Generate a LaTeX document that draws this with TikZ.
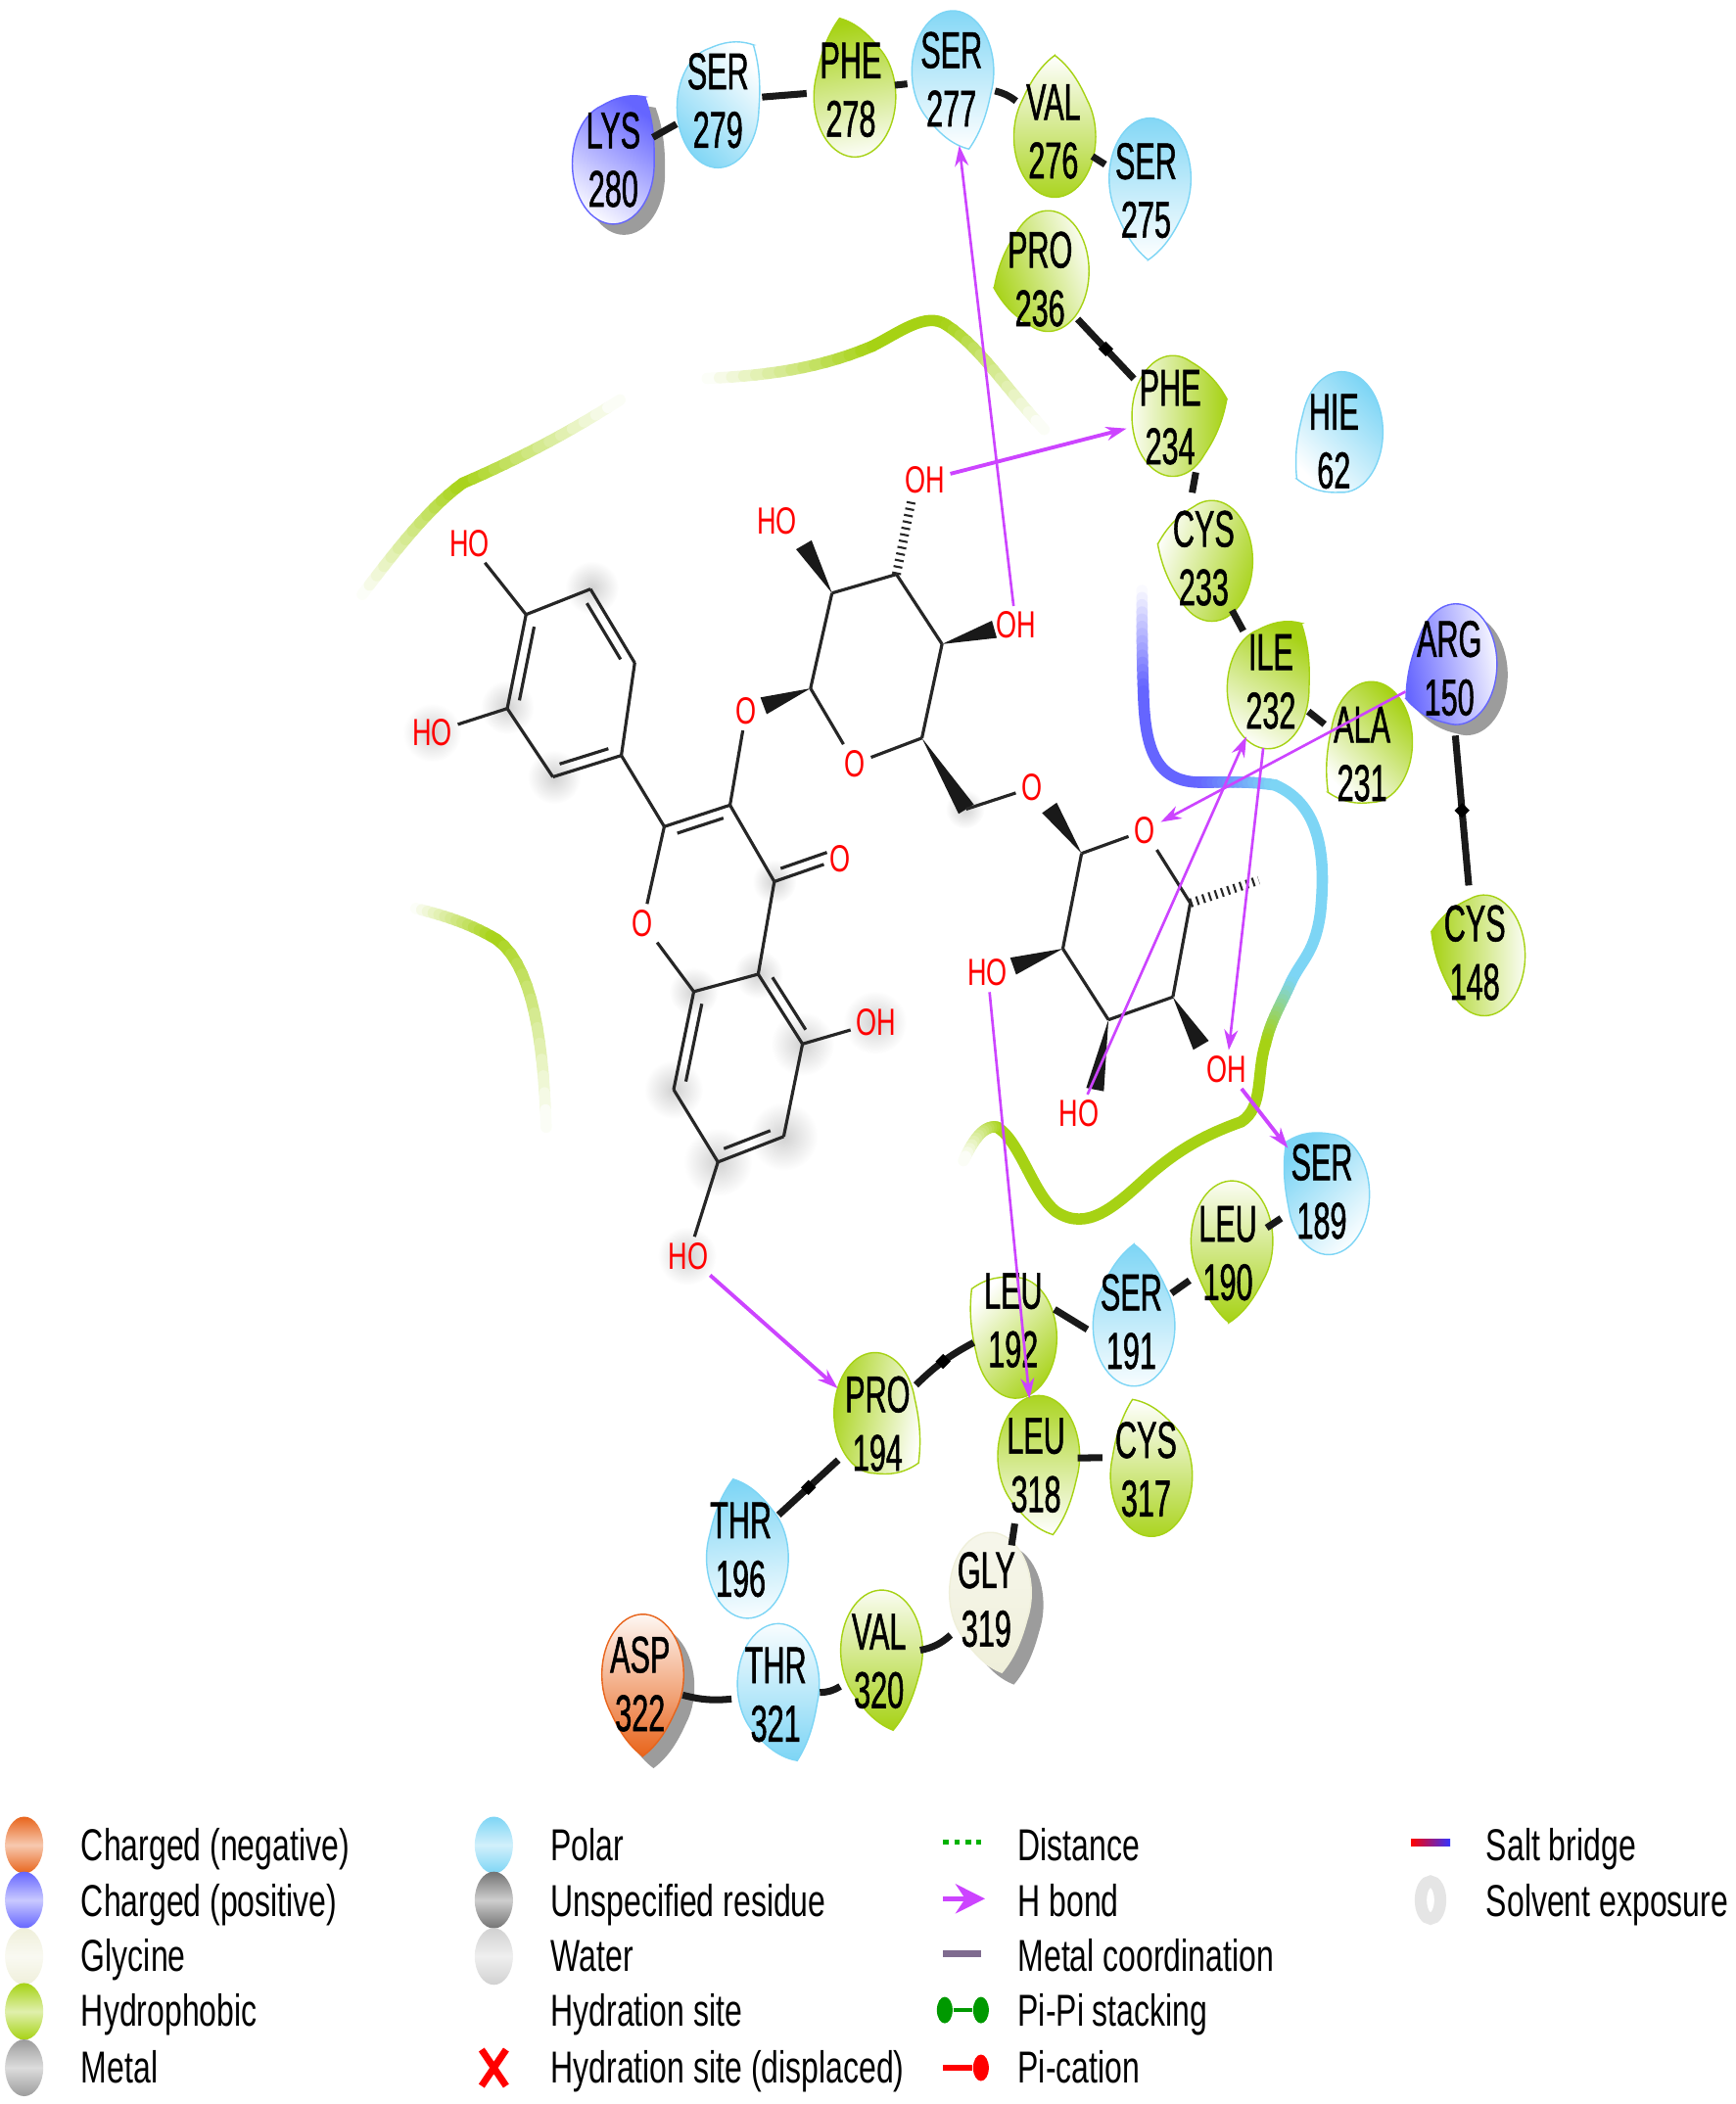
\documentclass[tikz,border=0pt]{standalone}
\usepackage{fontspec}
\usetikzlibrary{arrows.meta,calc,shapes.geometric,shapes.misc}
\newfontfamily\resfont[FakeStretch=0.58,FakeBold=1]{Liberation Sans}
\newfontfamily\legfont[FakeStretch=0.70]{Liberation Sans}
\definecolor{hphob}{HTML}{A6D214}
\definecolor{polar}{HTML}{7DD5F5}
\definecolor{posit}{HTML}{6565FF}
\definecolor{negat}{HTML}{E8641B}
\definecolor{glyc}{HTML}{EFEFDA}
\definecolor{hbond}{HTML}{CC44FF}
\definecolor{dropgray}{HTML}{9C9C9C}
\definecolor{metalc}{HTML}{7F6B8F}
\definecolor{unspec}{HTML}{737373}
\definecolor{water}{HTML}{D1D1D1}
\newcommand{\dropshape}[4]{\path[#4, shift={(#1,#2)}, xscale=30.5, yscale=45] (#3:1.35) .. controls (#3+18:1.22) and (#3+34:1.08) .. (#3+52:1) arc[start angle=#3+52, end angle=#3+308, radius=1] .. controls (#3-34:1.08) and (#3-18:1.22) .. cycle;}
\newcommand{\gradline}[6]{%
  \foreach \i in {1,...,14}{%
    \pgfmathsetmacro{\ta}{(\i-1)/14}\pgfmathsetmacro{\tb}{\i/14}\pgfmathtruncatemacro{\mixv}{100*(\i-.5)/14}%
    \path #1 .. controls #2 and #3 .. #4 coordinate[pos=\ta] (u) coordinate[pos=\tb] (v);
    \draw[pocket, color=#6!\mixv!#5] (u) -- (v);}}
\newcommand{\dblbond}[3]{%
  \draw[bond] (#1) -- (#2);
  \draw[bond, shorten <=3pt, shorten >=3pt] ($(#1)!3pt!#3:(#2)$) -- ($(#2)!3pt!-#3:(#1)$);}
\newcommand{\wedgebond}[2]{\fill[black!90] ($(#2)!2.6pt!90:(#1)$) -- ($(#2)!2.6pt!-90:(#1)$) -- (#1) -- cycle;}

\begin{document}
\begin{tikzpicture}[
  x=0.013705cm, y=0.013705cm,
  resnode/.style={ellipse, inner sep=0pt, minimum width=0.84cm, minimum height=1.26cm, align=center, font=\resfont\fontsize{15}{17}\selectfont},
  hphobdrop/.style={draw=hphob, top color=hphob, bottom color=white, shading angle=#1},
  polardrop/.style={draw=polar, top color=polar, bottom color=white, shading angle=#1},
  positdrop/.style={draw=posit, top color=posit, bottom color=white, shading angle=#1},
  negatdrop/.style={draw=negat, top color=negat, bottom color=white, shading angle=#1},
  glycdrop/.style={draw=glyc, top color=glyc!50, bottom color=glyc, shading angle=#1},
  dropshadow/.style={fill=dropgray},
  backbone/.style={line width=2pt, black!90},
  kink/.style={diamond, fill=black, inner sep=1.3pt},
  bond/.style={line width=0.9pt, black!85},
  hashbond/.style={line width=2.6pt, black!85, dash pattern=on 0.6pt off 1.3pt},
  atomlabel/.style={text=red, inner sep=1.5pt, font=\legfont\fontsize{11}{12}\selectfont},
  halo/.style={circle, inner sep=0pt, minimum size=#1, inner color=black!18, outer color=white},
  pocket/.style={line width=3.3pt, line cap=round},
  hbondline/.style={-{Stealth[length=2.1mm,width=1.4mm]}, hbond, line width=0.75pt},
  hbondthick/.style={hbondline, line width=1.1pt},
  legtext/.style={anchor=base west, yshift=-0.155cm, inner sep=0pt, font=\legfont\fontsize{13}{14}\selectfont},
  legmark/.style={ellipse, inner sep=0pt, minimum width=0.39cm, minimum height=0.58cm, top color=#1, bottom color=#1, middle color=#1!35}
]
\useasboundingbox (0,0) rectangle (1293,-1568);

% solvent exposure
\node[halo=0.55cm] (ha) at (441,-438) {};
\node[halo=0.55cm] (hb) at (413,-579) {};
\node[halo=0.55cm] (hc) at (378,-527) {};
\node[halo=0.6cm] (hd) at (322,-546) {};
\node[halo=0.45cm] (he) at (577,-657) {};
\node[halo=0.5cm] (hf) at (565,-726) {};
\node[halo=0.5cm] (hg) at (517,-739) {};
\node[halo=0.65cm] (hh) at (598,-778) {};
\node[halo=0.65cm] (hi) at (652,-762) {};
\node[halo=0.7cm] (hj) at (584,-847) {};
\node[halo=0.7cm] (hk) at (535,-866) {};
\node[halo=0.6cm] (hl) at (502,-812) {};
\node[halo=0.6cm] (hm) at (512,-936) {};
\node[halo=0.4cm] (hn) at (719,-603) {};

% pocket outline
\gradline{(270,-443)}{(295,-410)}{(320,-378)}{(345,-360)}{white}{hphob}
\gradline{(345,-360)}{(380,-345)}{(420,-325)}{(462,-298)}{hphob}{white}
\gradline{(527,-282)}{(570,-280)}{(610,-275)}{(650,-258)}{white}{hphob}
\draw[pocket, hphob] (650,-258) .. controls (670,-248) and (690,-232) .. (705,-242);
\gradline{(705,-242)}{(730,-258)}{(750,-290)}{(778,-320)}{hphob}{white}
\gradline{(310,-677)}{(330,-682)}{(350,-688)}{(370,-700)}{white}{hphob}
\gradline{(370,-700)}{(398,-720)}{(405,-780)}{(407,-840)}{hphob}{white}
\gradline{(851,-440)}{(851,-465)}{(851,-490)}{(852,-515)}{white}{posit}
\draw[pocket, posit] (852,-515) .. controls (853,-560) and (862,-583) .. (895,-583);
\gradline{(895,-583)}{(915,-583)}{(930,-582)}{(950,-585)}{posit}{polar}
\draw[pocket, polar] (950,-585) .. controls (985,-600) and (988,-640) .. (984,-680) .. controls (980,-710) and (970,-715) .. (962,-732);
\gradline{(962,-732)}{(955,-748)}{(947,-760)}{(943,-778)}{polar}{hphob}
\draw[pocket, hphob] (943,-778) .. controls (936,-800) and (942,-825) .. (925,-836) .. controls (900,-845) and (880,-855) .. (855,-877) .. controls (830,-900) and (810,-918) .. (787,-903) .. controls (770,-890) and (760,-850) .. (743,-840);
\gradline{(743,-840)}{(733,-838)}{(725,-850)}{(718,-865)}{hphob}{white}

% residues
\dropshape{465}{-130}{55}{dropshadow}
\dropshape{457}{-122}{55}{positdrop=-35}
\node[resnode] (lys280) at (457,-119) {LYS\\280};
\dropshape{535}{-80}{50}{polardrop=135}
\node[resnode] (ser279) at (535,-75) {SER\\279};
\dropshape{637}{-72}{106}{hphobdrop=10}
\node[resnode] (phe278) at (634,-67) {PHE\\278};
\dropshape{710}{-53}{-73}{polardrop=0}
\node[resnode] (ser277) at (709,-59) {SER\\277};
\dropshape{786}{-102}{90}{hphobdrop=180}
\node[resnode] (val276) at (785,-98) {VAL\\276};
\dropshape{857}{-133}{-92}{polardrop=0}
\node[resnode] (ser275) at (854,-142) {SER\\275};
\dropshape{781}{-202}{192}{hphobdrop=110}
\node[resnode] (pro236) at (775,-208) {PRO\\236};
\dropshape{874}{-310}{12}{hphobdrop=-90}
\node[resnode] (phe234) at (872,-311) {PHE\\234};
\dropshape{1000}{-322}{215}{polardrop=-45}
\node[resnode] (hie62) at (994,-329) {HIE\\62};
\dropshape{903}{-418}{168}{hphobdrop=-110}
\node[resnode] (cys233) at (897,-416) {CYS\\233};
\dropshape{945}{-513}{53}{hphobdrop=-30}
\node[resnode] (ile232) at (947,-508) {ILE\\232};
\dropshape{1022}{-553}{218}{hphobdrop=-45}
\node[resnode] (ala231) at (1015,-562) {ALA\\231};
\dropshape{1093}{-503}{205}{dropshadow}
\dropshape{1085}{-495}{205}{positdrop=100}
\node[resnode] (arg150) at (1080,-498) {ARG\\150};
\dropshape{1106}{-712}{163}{hphobdrop=90}
\node[resnode] (cys148) at (1099,-710) {CYS\\148};
\dropshape{990}{-890}{140}{polardrop=45}
\node[resnode] (ser189) at (985,-888) {SER\\189};
\dropshape{918}{-925}{-93}{hphobdrop=180}
\node[resnode] (leu190) at (915,-934) {LEU\\190};
\dropshape{845}{-988}{90}{polardrop=0}
\node[resnode] (ser191) at (843,-985) {SER\\191};
\dropshape{757}{-997}{143}{hphobdrop=-135}
\node[resnode] (leu192) at (755,-984) {LEU\\192};
\dropshape{652}{-1053}{-38}{hphobdrop=80}
\node[resnode] (pro194) at (654,-1061) {PRO\\194};
\dropshape{774}{-1085}{-75}{hphobdrop=0}
\node[resnode] (leu318) at (772,-1092) {LEU\\318};
\dropshape{858}{-1100}{110}{hphobdrop=180}
\node[resnode] (cys317) at (854,-1095) {CYS\\317};
\dropshape{557}{-1161}{105}{polardrop=5}
\node[resnode] (thr196) at (552,-1155) {THR\\196};
\dropshape{747}{-1196}{-78}{dropshadow}
\dropshape{738}{-1187}{-78}{glycdrop=0}
\node[resnode] (gly319) at (735,-1192) {GLY\\319};
\dropshape{657}{-1230}{-78}{hphobdrop=180}
\node[resnode] (val320) at (655,-1238) {VAL\\320};
\dropshape{580}{-1255}{-70}{polardrop=180}
\node[resnode] (thr321) at (578,-1263) {THR\\321};
\dropshape{487}{-1257}{-90}{dropshadow}
\dropshape{479}{-1248}{-90}{negatdrop=180}
\node[resnode] (asp322) at (477,-1255) {ASP\\322};

\draw[backbone] (lys280) -- (ser279);
\draw[backbone] (ser279) -- (phe278);
\draw[backbone] (phe278) -- (ser277);
\draw[backbone] (ser277) to[bend left=12] (val276);
\draw[backbone] (val276) -- (ser275);
\draw[backbone] (pro236) -- node[kink]{} (phe234);
\draw[backbone] (phe234.-65) -- (cys233.100);
\draw[backbone] (cys233) -- (ile232);
\draw[backbone] (ile232) -- (ala231);
\draw[backbone] (arg150) -- node[kink]{} (cys148);
\draw[backbone] (ser189) -- (leu190);
\draw[backbone] (leu190) -- (ser191);
\draw[backbone] (ser191.190) -- (leu192.15);
\draw[backbone] (leu192) to[bend right=8] node[kink]{} (pro194);
\draw[backbone] (pro194) -- node[kink]{} (thr196);
\draw[backbone] (leu318.10) -- (cys317.165);
\draw[backbone] (leu318.-110) -- (gly319.65);
\draw[backbone] (gly319) to[bend left=15] (val320);
\draw[backbone] (val320) to[bend left=15] (thr321);
\draw[backbone] (thr321) to[bend left=10] (asp322);

% ligand atoms
\coordinate (b1) at (392,-458);
\coordinate (b2) at (440,-439);
\coordinate (b3) at (473,-494);
\coordinate (b4) at (463,-563);
\coordinate (b5) at (412,-579);
\coordinate (b6) at (378,-528);
\node[atomlabel] (ob1) at (350,-405) {HO};
\node[atomlabel] (ob6) at (322,-546) {HO};
\coordinate (c2) at (495,-616);
\coordinate (c3) at (544,-600);
\coordinate (c4) at (577,-657);
\node[atomlabel] (oc4) at (626,-640) {O};
\node[atomlabel] (o1) at (479,-688) {O};
\coordinate (a8) at (517,-739);
\coordinate (a4) at (565,-726);
\coordinate (a5) at (598,-778);
\coordinate (a6) at (584,-847);
\coordinate (a7) at (535,-866);
\coordinate (a8b) at (502,-812);
\node[atomlabel] (oa5) at (653,-762) {OH};
\node[atomlabel] (oa7) at (513,-936) {HO};
\node[atomlabel] (oc3) at (556,-530) {O};
\coordinate (s1) at (604,-513);
\node[atomlabel] (os) at (637,-569) {O};
\coordinate (s5) at (687,-550);
\coordinate (s4) at (702,-480);
\coordinate (s3) at (668,-428);
\coordinate (s2) at (620,-442);
\node[atomlabel] (os2) at (579,-388) {HO};
\coordinate (ws2) at (599,-406);
\node[atomlabel] (os3) at (689,-358) {OH};
\coordinate (ws3) at (679,-374);
\node[atomlabel] (os4) at (757,-466) {OH};
\coordinate (ws4) at (741,-469);
\coordinate (ws1) at (569,-526);
\coordinate (ch2) at (720,-603);
\node[atomlabel] (og) at (769,-587) {O};
\coordinate (wr1) at (782,-602);
\coordinate (r1) at (806,-636);
\node[atomlabel] (or) at (853,-619) {O};
\coordinate (r5) at (887,-673);
\coordinate (me) at (938,-656);
\coordinate (r4) at (874,-743);
\coordinate (r3) at (826,-760);
\coordinate (r2) at (792,-707);
\node[atomlabel] (or2) at (736,-725) {HO};
\coordinate (wr2) at (755,-720);
\node[atomlabel] (or4) at (914,-797) {OH};
\coordinate (wr4) at (895,-779);
\node[atomlabel] (or3) at (804,-830) {HO};
\coordinate (wr3) at (816,-812);

% ligand bonds
\draw[bond] (ob1) -- (b1);
\draw[bond] (ob6) -- (b6);
\dblbond{b6}{b1}{-90}
\draw[bond] (b1) -- (b2);
\dblbond{b2}{b3}{-90}
\draw[bond] (b3) -- (b4);
\dblbond{b4}{b5}{-90}
\draw[bond] (b5) -- (b6);
\draw[bond] (b4) -- (c2);
\dblbond{c2}{c3}{-90}
\draw[bond] (c3) -- (c4);
\draw[bond] (c4) -- (a4);
\draw[bond] (c2) -- (o1);
\draw[bond] (o1) -- (a8);
\draw[bond] (a8) -- (a4);
\dblbond{c4}{oc4}{90}
\dblbond{a4}{a5}{90}
\draw[bond] (a5) -- (a6);
\dblbond{a6}{a7}{-90}
\draw[bond] (a7) -- (a8b);
\dblbond{a8b}{a8}{-90}
\draw[bond] (a5) -- (oa5);
\draw[bond] (a7) -- (oa7);
\draw[bond] (c3) -- (oc3);
\wedgebond{s1}{ws1}
\draw[bond] (s1) -- (os);
\draw[bond] (os) -- (s5);
\draw[bond] (s5) -- (s4);
\draw[bond] (s4) -- (s3);
\draw[bond] (s3) -- (s2);
\draw[bond] (s2) -- (s1);
\wedgebond{s2}{ws2}
\draw[hashbond] (s3) -- (ws3);
\wedgebond{s4}{ws4}
\wedgebond{s5}{ch2}
\draw[bond] (ch2) -- (og);
\wedgebond{r1}{wr1}
\draw[bond] (r1) -- (or);
\draw[bond] (or) -- (r5);
\draw[hashbond] (r5) -- (me);
\draw[bond] (r5) -- (r4);
\draw[bond] (r4) -- (r3);
\draw[bond] (r3) -- (r2);
\draw[bond] (r2) -- (r1);
\wedgebond{r2}{wr2}
\wedgebond{r4}{wr4}
\wedgebond{r3}{wr3}

% h bonds
\draw[hbondthick] (os3) -- (phe234);
\draw[hbondline] (os4) -- (ser277);
\draw[hbondline] (arg150) -- (or);
\draw[hbondline] (or3) -- (ile232);
\draw[hbondline] (ile232) -- (or4);
\draw[hbondthick] (or4) -- (ser189);
\draw[hbondline] (or2) -- (leu318);
\draw[hbondthick] (oa7) -- (pro194);

% legend
\node[legmark=negat] (mneg) at (18,-1375) {};
\node[legmark=posit] (mpos) at (18,-1416) {};
\node[legmark=glyc] (mgly) at (18,-1458) {};
\node[legmark=hphob] (mhyd) at (18,-1499) {};
\node[legmark=dropgray] (mmet) at (18,-1541) {};
\node[legtext] (tneg) at (60,-1375) {Charged (negative)};
\node[legtext] (tpos) at (60,-1417) {Charged (positive)};
\node[legtext] (tgly) at (60,-1458) {Glycine};
\node[legtext] (thyd) at (60,-1499) {Hydrophobic};
\node[legtext] (tmet) at (60,-1541) {Metal};
\node[legmark=polar] (mpol) at (368,-1375) {};
\node[legmark=unspec] (muns) at (368,-1416) {};
\node[legmark=water] (mwat) at (368,-1458) {};
\node[cross out, draw=red, line width=2pt, inner sep=0pt, minimum width=0.18cm, minimum height=0.3cm] (mdis) at (368,-1541) {};
\node[legtext] (tpol) at (410,-1375) {Polar};
\node[legtext] (tuns) at (410,-1417) {Unspecified residue};
\node[legtext] (twat) at (410,-1458) {Water};
\node[legtext] (thds) at (410,-1499) {Hydration site};
\node[legtext] (tdis) at (410,-1541) {Hydration site (displaced)};
\coordinate (la1) at (703,-1373);
\coordinate (la2) at (731,-1373);
\draw[green!70!black, line width=1.5pt, dash pattern=on 1.6pt off 1.6pt] (la1) -- (la2);
\coordinate (lb1) at (703,-1415);
\coordinate (lb2) at (734,-1415);
\draw[hbond, line width=1.6pt, -{Stealth[length=3mm,width=3mm]}] (lb1) -- (lb2);
\coordinate (lc1) at (703,-1456);
\coordinate (lc2) at (731,-1456);
\draw[metalc, line width=2pt] (lc1) -- (lc2);
\node[ellipse, fill=green!60!black, inner sep=0pt, minimum width=0.16cm, minimum height=0.27cm] (ld1) at (704,-1498) {};
\node[ellipse, fill=green!60!black, inner sep=0pt, minimum width=0.16cm, minimum height=0.27cm] (ld2) at (731,-1498) {};
\draw[green!60!black, line width=1.2pt] (ld1) -- (ld2);
\coordinate (le1) at (703,-1541);
\node[ellipse, fill=red, inner sep=0pt, minimum width=0.16cm, minimum height=0.27cm] (le2) at (731,-1541) {};
\draw[red, line width=1.8pt] (le1) -- (le2);
\node[legtext] (tdst) at (758,-1375) {Distance};
\node[legtext] (thbd) at (758,-1417) {H bond};
\node[legtext] (tmtc) at (758,-1458) {Metal coordination};
\node[legtext] (tpip) at (758,-1499) {Pi-Pi stacking};
\node[legtext] (tpic) at (758,-1541) {Pi-cation};
\node[left color=red, right color=blue!80, inner sep=0pt, minimum width=0.4cm, minimum height=2pt] (msb) at (1066,-1373) {};
\node[ellipse, draw=black!10, line width=3.5pt, inner sep=0pt, minimum width=0.2cm, minimum height=0.38cm] (msv) at (1066,-1416) {};
\node[legtext] (tsb) at (1107,-1375) {Salt bridge};
\node[legtext] (tsv) at (1107,-1417) {Solvent exposure};
\end{tikzpicture}
\end{document}
